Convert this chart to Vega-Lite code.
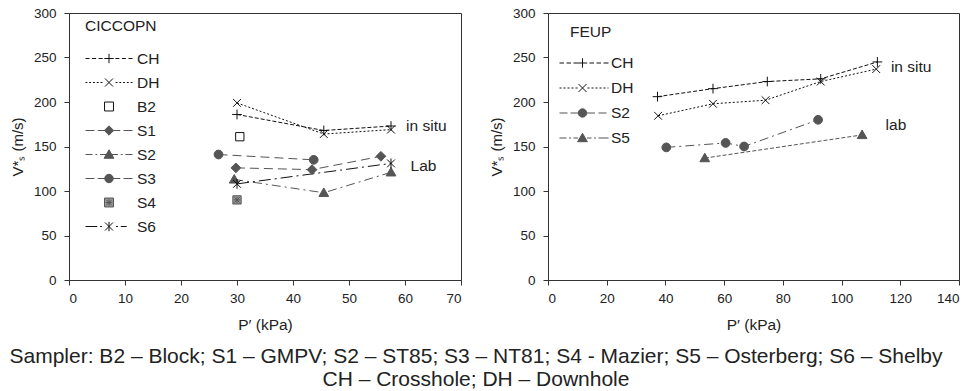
{
  "$schema": "https://vega.github.io/schema/vega-lite/v6.json",
  "padding": {"left": 9, "top": 5, "right": 5, "bottom": 0},
  "spacing": 26,
  "title": {
    "text": ["Sampler: B2 – Block; S1 – GMPV; S2 – ST85; S3 – NT81; S4 - Mazier; S5 – Osterberg; S6 – Shelby", "CH – Crosshole; DH – Downhole"],
    "orient": "bottom", "anchor": "middle", "fontSize": 21, "fontWeight": "normal", "color": "#222",
    "lineHeight": 23, "offset": 12, "dx": -9, "font": "Liberation Sans"
  },
  "datasets": {
    "left": [
      {"series": "CH", "P": 30, "Vs": 186}, {"series": "CH", "P": 45.5, "Vs": 168}, {"series": "CH", "P": 57.5, "Vs": 173},
      {"series": "DH", "P": 30, "Vs": 199}, {"series": "DH", "P": 45.5, "Vs": 164}, {"series": "DH", "P": 57.5, "Vs": 169},
      {"series": "B2", "P": 30.5, "Vs": 161},
      {"series": "S1", "P": 29.8, "Vs": 126}, {"series": "S1", "P": 43.4, "Vs": 124}, {"series": "S1", "P": 55.7, "Vs": 139},
      {"series": "S2", "P": 29.5, "Vs": 113}, {"series": "S2", "P": 45.5, "Vs": 98}, {"series": "S2", "P": 57.5, "Vs": 121},
      {"series": "S3", "P": 26.7, "Vs": 141}, {"series": "S3", "P": 43.7, "Vs": 135},
      {"series": "S4", "P": 30, "Vs": 90},
      {"series": "S6", "P": 30, "Vs": 108}, {"series": "S6", "P": 57.5, "Vs": 131}
    ],
    "right": [
      {"series": "CH", "P": 37.3, "Vs": 206}, {"series": "CH", "P": 56.2, "Vs": 215}, {"series": "CH", "P": 74.7, "Vs": 223}, {"series": "CH", "P": 92.9, "Vs": 226}, {"series": "CH", "P": 112.2, "Vs": 245},
      {"series": "DH", "P": 37.5, "Vs": 184.5}, {"series": "DH", "P": 56.2, "Vs": 198}, {"series": "DH", "P": 74.1, "Vs": 202}, {"series": "DH", "P": 92.9, "Vs": 223}, {"series": "DH", "P": 111.8, "Vs": 237},
      {"series": "S2", "P": 40.3, "Vs": 149}, {"series": "S2", "P": 60.5, "Vs": 154}, {"series": "S2", "P": 66.8, "Vs": 150}, {"series": "S2", "P": 92, "Vs": 180},
      {"series": "S5", "P": 53.4, "Vs": 137}, {"series": "S5", "P": 107, "Vs": 163}
    ],
    "leftNotes": [
      {"label": "in situ", "P": 60.2, "Vs": 173},
      {"label": "Lab", "P": 61, "Vs": 128}
    ],
    "rightNotes": [
      {"label": "in situ", "P": 116.8, "Vs": 239},
      {"label": "lab", "P": 115, "Vs": 174}
    ]
  },
  "hconcat": [
    {
      "width": 392, "height": 267,
      "layer": [
        {
          "data": {"name": "left"},
          "mark": {"type": "line", "strokeWidth": 1},
          "encoding": {
            "x": {"field": "P", "type": "quantitative", "scale": {"domain": [0, 70], "nice": false}, "axis": {"values": [0, 10, 20, 30, 40, 50, 60, 70], "title": "P′ (kPa)"}},
            "y": {"field": "Vs", "type": "quantitative", "scale": {"domain": [0, 300], "nice": false}, "axis": {"values": [0, 50, 100, 150, 200, 250, 300], "title": "V*ₛ (m/s)"}},
            "detail": {"field": "series"},
            "stroke": {"field": "series", "type": "nominal", "scale": {"domain": ["CH", "DH", "B2", "S1", "S2", "S3", "S4", "S6"], "range": ["#111", "#111", "#111", "#555", "#555", "#555", "#555", "#111"]}, "legend": null},
            "strokeDash": {"field": "series", "type": "nominal", "scale": {"domain": ["CH", "DH", "B2", "S1", "S2", "S3", "S4", "S6"], "range": [[4, 2], [2, 2], [1, 0], [9, 5], [9, 4, 2, 4], [9, 5], [1, 0], [12, 4, 2, 4]]}, "legend": null}
          }
        },
        {
          "data": {"name": "left"},
          "mark": {"type": "point", "size": 95, "strokeWidth": 1, "opacity": 1},
          "encoding": {
            "x": {"field": "P", "type": "quantitative"},
            "y": {"field": "Vs", "type": "quantitative"},
            "shape": {"field": "series", "type": "nominal", "legend": null, "scale": {"domain": ["CH", "DH", "B2", "S1", "S2", "S3", "S4", "S6"], "range": [
              "M-1,0H1M0,-1V1",
              "M-0.8,-0.8L0.8,0.8M-0.8,0.8L0.8,-0.8",
              "M-0.85,-0.85H0.85V0.85H-0.85Z",
              "M0,-1L1,0L0,1L-1,0Z",
              "M0,-1L1,0.75H-1Z",
              "M0.9,0A0.9,0.9,0,1,1,-0.9,0A0.9,0.9,0,1,1,0.9,0Z",
              "M-0.85,-0.85H0.85V0.85H-0.85ZM-0.55,-0.55L0.55,0.55M-0.55,0.55L0.55,-0.55M0,-0.65V0.65M-0.65,0H0.65",
              "M-0.8,-0.8L0.8,0.8M-0.8,0.8L0.8,-0.8M0,-1V1"
            ]}},
            "fill": {"field": "series", "type": "nominal", "legend": null, "scale": {"domain": ["CH", "DH", "B2", "S1", "S2", "S3", "S4", "S6"], "range": ["transparent", "transparent", "#fff", "#555", "#555", "#555", "#999", "transparent"]}},
            "stroke": {"field": "series", "type": "nominal", "legend": null, "scale": {"domain": ["CH", "DH", "B2", "S1", "S2", "S3", "S4", "S6"], "range": ["#111", "#111", "#111", "#555", "#555", "#555", "#555", "#111"]}}
          }
        },
        {
          "data": {"name": "leftNotes"},
          "mark": {"type": "text", "align": "left", "baseline": "middle", "fontSize": 15.5, "color": "#222"},
          "encoding": {
            "x": {"field": "P", "type": "quantitative"},
            "y": {"field": "Vs", "type": "quantitative"},
            "text": {"field": "label"}
          }
        },
        {
          "data": {"values": []},
          "mark": {"type": "point", "strokeWidth": 1, "opacity": 1},
          "encoding": {
            "shape": {"field": "series", "type": "nominal",
              "legend": {"title": "CICCOPN", "orient": "none", "legendX": 16, "legendY": 6, "symbolSize": 2209, "symbolStrokeWidth": 1, "labelFontSize": 15.5, "titleFontSize": 15.5, "titleFontWeight": "normal", "titleColor": "#222", "labelColor": "#222", "titlePadding": 16, "rowPadding": 7, "clipHeight": 16, "labelOffset": 4},
              "scale": {"domain": ["CH", "DH", "B2", "S1", "S2", "S3", "S4", "S6"], "range": [
                "M-1,0H-0.83M-0.72,0H-0.55M-0.44,0H-0.27M-0.2,0H0.2M0,-0.2V0.2M0.27,0H0.44M0.55,0H0.72M0.83,0H1",
                "M-1,0H-0.92M-0.84,0H-0.76M-0.68,0H-0.6M-0.52,0H-0.44M-0.36,0H-0.28M-0.17,-0.17L0.17,0.17M-0.17,0.17L0.17,-0.17M0.28,0H0.36M0.44,0H0.52M0.6,0H0.68M0.76,0H0.84M0.92,0H1",
                "M-0.19,-0.19H0.19V0.19H-0.19Z",
                "M-1,0H-0.62M-0.48,0H-0.1M0.1,0H0.48M0.62,0H1M0,-0.2L0.2,0L0,0.2L-0.2,0Z",
                "M-1,0H-0.7M-0.58,0H-0.5M-0.38,0H-0.1M0.1,0H0.38M0.5,0H0.58M0.7,0H1M0,-0.2L0.21,0.16H-0.21Z",
                "M-1,0H-0.62M-0.48,0H-0.1M0.1,0H0.48M0.62,0H1M0.18,0A0.18,0.18,0,1,1,-0.18,0A0.18,0.18,0,1,1,0.18,0Z",
                "M-0.19,-0.19H0.19V0.19H-0.19ZM-0.12,-0.12L0.12,0.12M-0.12,0.12L0.12,-0.12M0,-0.14V0.14M-0.14,0H0.14",
                "M-1,0H-0.5M-0.38,0H-0.3M-0.17,-0.17L0.17,0.17M-0.17,0.17L0.17,-0.17M0,-0.2V0.2M0.3,0H0.38M0.5,0H0.75"
              ]}},
            "fill": {"field": "series", "type": "nominal",
              "legend": {"title": "CICCOPN", "orient": "none", "legendX": 16, "legendY": 6, "symbolSize": 2209, "symbolStrokeWidth": 1, "labelFontSize": 15.5, "titleFontSize": 15.5, "titleFontWeight": "normal", "titleColor": "#222", "labelColor": "#222", "titlePadding": 16, "rowPadding": 7, "clipHeight": 16, "labelOffset": 4},
              "scale": {"domain": ["CH", "DH", "B2", "S1", "S2", "S3", "S4", "S6"], "range": ["transparent", "transparent", "#fff", "#555", "#555", "#555", "#999", "transparent"]}},
            "stroke": {"field": "series", "type": "nominal",
              "legend": {"title": "CICCOPN", "orient": "none", "legendX": 16, "legendY": 6, "symbolSize": 2209, "symbolStrokeWidth": 1, "labelFontSize": 15.5, "titleFontSize": 15.5, "titleFontWeight": "normal", "titleColor": "#222", "labelColor": "#222", "titlePadding": 16, "rowPadding": 7, "clipHeight": 16, "labelOffset": 4},
              "scale": {"domain": ["CH", "DH", "B2", "S1", "S2", "S3", "S4", "S6"], "range": ["#111", "#111", "#111", "#555", "#555", "#555", "#555", "#111"]}}
          }
        }
      ],
      "resolve": {"scale": {"shape": "independent", "fill": "independent", "stroke": "independent"}}
    },
    {
      "width": 411, "height": 267,
      "layer": [
        {
          "data": {"name": "right"},
          "mark": {"type": "line", "strokeWidth": 1},
          "encoding": {
            "x": {"field": "P", "type": "quantitative", "scale": {"domain": [0, 140], "nice": false}, "axis": {"values": [0, 20, 40, 60, 80, 100, 120, 140], "title": "P′ (kPa)"}},
            "y": {"field": "Vs", "type": "quantitative", "scale": {"domain": [0, 300], "nice": false}, "axis": {"values": [0, 50, 100, 150, 200, 250, 300], "title": "V*ₛ (m/s)"}},
            "detail": {"field": "series"},
            "stroke": {"field": "series", "type": "nominal", "scale": {"domain": ["CH", "DH", "S2", "S5"], "range": ["#111", "#111", "#555", "#555"]}, "legend": null},
            "strokeDash": {"field": "series", "type": "nominal", "scale": {"domain": ["CH", "DH", "S2", "S5"], "range": [[4, 2], [2, 2], [9, 5], [9, 4, 2, 4]]}, "legend": null}
          }
        },
        {
          "data": {"name": "right"},
          "mark": {"type": "point", "size": 95, "strokeWidth": 1, "opacity": 1},
          "encoding": {
            "x": {"field": "P", "type": "quantitative"},
            "y": {"field": "Vs", "type": "quantitative"},
            "shape": {"field": "series", "type": "nominal", "legend": null, "scale": {"domain": ["CH", "DH", "S2", "S5"], "range": [
              "M-1,0H1M0,-1V1",
              "M-0.8,-0.8L0.8,0.8M-0.8,0.8L0.8,-0.8",
              "M0.9,0A0.9,0.9,0,1,1,-0.9,0A0.9,0.9,0,1,1,0.9,0Z",
              "M0,-1L1,0.75H-1Z"
            ]}},
            "fill": {"field": "series", "type": "nominal", "legend": null, "scale": {"domain": ["CH", "DH", "S2", "S5"], "range": ["transparent", "transparent", "#555", "#555"]}},
            "stroke": {"field": "series", "type": "nominal", "legend": null, "scale": {"domain": ["CH", "DH", "S2", "S5"], "range": ["#111", "#111", "#555", "#555"]}}
          }
        },
        {
          "data": {"name": "rightNotes"},
          "mark": {"type": "text", "align": "left", "baseline": "middle", "fontSize": 15.5, "color": "#222"},
          "encoding": {
            "x": {"field": "P", "type": "quantitative"},
            "y": {"field": "Vs", "type": "quantitative"},
            "text": {"field": "label"}
          }
        },
        {
          "data": {"values": []},
          "mark": {"type": "point", "strokeWidth": 1, "opacity": 1},
          "encoding": {
            "shape": {"field": "series", "type": "nominal",
              "legend": {"title": "FEUP", "orient": "none", "legendX": 22, "legendY": 12, "symbolSize": 400, "symbolStrokeWidth": 1, "labelFontSize": 15.5, "titleFontSize": 15.5, "titleFontWeight": "normal", "titleColor": "#222", "labelColor": "#222", "titlePadding": 12, "rowPadding": 6, "labelOffset": 20},
              "scale": {"domain": ["CH", "DH", "S2", "S5"], "range": [
                "M-2.1,0H-1.65M-1.4,0H-0.95M-0.7,0H-0.27M-0.27,0H0.67M0.2,-0.47V0.47M0.9,0H1.35M1.6,0H2.05M2.3,0H2.8",
                "M-2.1,0H-1.9M-1.7,0H-1.5M-1.3,0H-1.1M-0.9,0H-0.7M-0.5,0H-0.3M-0.2,-0.4L0.6,0.4M-0.2,0.4L0.6,-0.4M0.7,0H0.9M1.1,0H1.3M1.5,0H1.7M1.9,0H2.1M2.3,0H2.5M2.7,0H2.8",
                "M-2.1,0H-1.3M-1,0H-0.25M0.65,0H1.45M1.8,0H2.6M0.62,0A0.42,0.42,0,1,1,-0.22,0A0.42,0.42,0,1,1,0.62,0Z",
                "M-2.1,0H-1.4M-1.15,0H-0.95M-0.7,0H-0.25M0.65,0H1.1M1.35,0H1.55M1.8,0H2.8M0.2,-0.47L0.69,0.37H-0.29Z"
              ]}},
            "fill": {"field": "series", "type": "nominal",
              "legend": {"title": "FEUP", "orient": "none", "legendX": 22, "legendY": 12, "symbolSize": 400, "symbolStrokeWidth": 1, "labelFontSize": 15.5, "titleFontSize": 15.5, "titleFontWeight": "normal", "titleColor": "#222", "labelColor": "#222", "titlePadding": 12, "rowPadding": 6, "labelOffset": 20},
              "scale": {"domain": ["CH", "DH", "S2", "S5"], "range": ["transparent", "transparent", "#555", "#555"]}},
            "stroke": {"field": "series", "type": "nominal",
              "legend": {"title": "FEUP", "orient": "none", "legendX": 22, "legendY": 12, "symbolSize": 400, "symbolStrokeWidth": 1, "labelFontSize": 15.5, "titleFontSize": 15.5, "titleFontWeight": "normal", "titleColor": "#222", "labelColor": "#222", "titlePadding": 12, "rowPadding": 6, "labelOffset": 20},
              "scale": {"domain": ["CH", "DH", "S2", "S5"], "range": ["#111", "#111", "#555", "#555"]}}
          }
        }
      ],
      "resolve": {"scale": {"shape": "independent", "fill": "independent", "stroke": "independent"}}
    }
  ],
  "config": {
    "font": "Liberation Sans",
    "view": {"stroke": "#333", "strokeWidth": 1},
    "axis": {
      "grid": false, "domainColor": "#333", "tickColor": "#333", "tickSize": 5,
      "labelFontSize": 13.5, "labelColor": "#222", "labelFont": "Liberation Sans",
      "titleFont": "Liberation Sans", "titleFontWeight": "normal", "titleColor": "#222", "titleFontSize": 15
    },
    "axisX": {"labelPadding": 6, "titlePadding": 13, "titleFontSize": 15.5},
    "axisY": {"labelPadding": 8, "titlePadding": 8},
    "legend": {"labelFont": "Liberation Sans", "titleFont": "Liberation Sans"}
  }
}
